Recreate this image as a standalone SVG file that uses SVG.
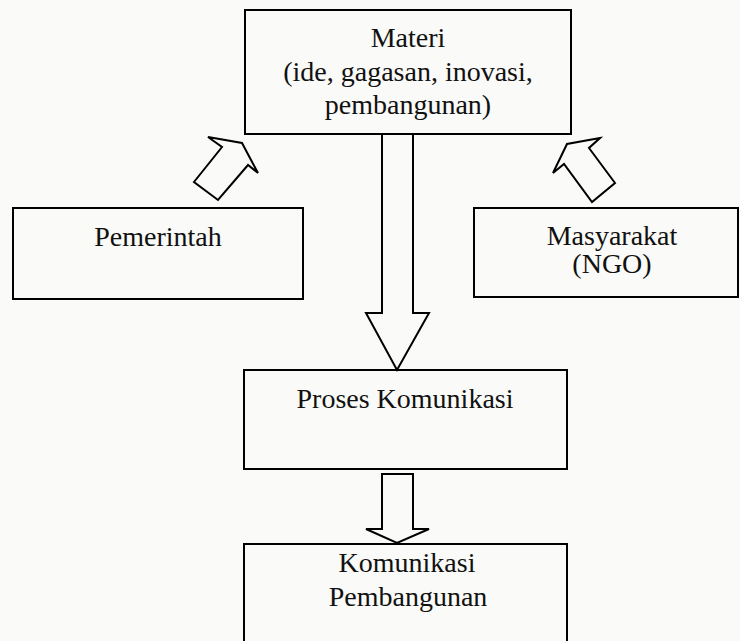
<svg xmlns="http://www.w3.org/2000/svg" width="740" height="641" viewBox="0 0 740 641">
<style>
.box{fill:none;stroke:#000;stroke-width:2}
.arr{fill:none;stroke:#000;stroke-width:2;stroke-linejoin:miter}
text{font-family:"Liberation Serif","Times New Roman",serif;font-size:28px;fill:#111;text-anchor:middle}
</style>
<rect width="740" height="641" fill="#fafaf8"/>
<g id="materi">
<rect class="box" x="245" y="10" width="326" height="124"/>
<text x="408" y="47">Materi</text>
<text x="408" y="80.5">(ide, gagasan, inovasi,</text>
<text x="408" y="114">pembangunan)</text>
</g>
<g id="pemerintah">
<rect class="box" x="13" y="208" width="290" height="91"/>
<text x="158" y="246">Pemerintah</text>
</g>
<g id="masyarakat">
<rect class="box" x="474" y="208" width="264" height="89"/>
<text x="612" y="245">Masyarakat</text>
<text x="612" y="273">(NGO)</text>
</g>
<g id="proses">
<rect class="box" x="244" y="370" width="323" height="99"/>
<text x="405" y="408">Proses Komunikasi</text>
</g>
<g id="komunikasi">
<rect class="box" x="244" y="544" width="323" height="120"/>
<text x="407" y="572">Komunikasi</text>
<text x="408" y="606">Pembangunan</text>
</g>
<g id="connectors">
<polygon class="arr" points="208,137 242,143 258,173 248,165 218,200 194,182 222,147"/>
<polygon class="arr" points="600,138 567,144 553,173 564,164 592,202 615,183 589,148"/>
<polygon class="arr" points="382,134 413,134 413,313 429,313 397,370 366,313 382,313"/>
<polygon class="arr" points="382,474 413,474 413,529 429,529 397,543 366,529 382,529"/>
</g>
</svg>
